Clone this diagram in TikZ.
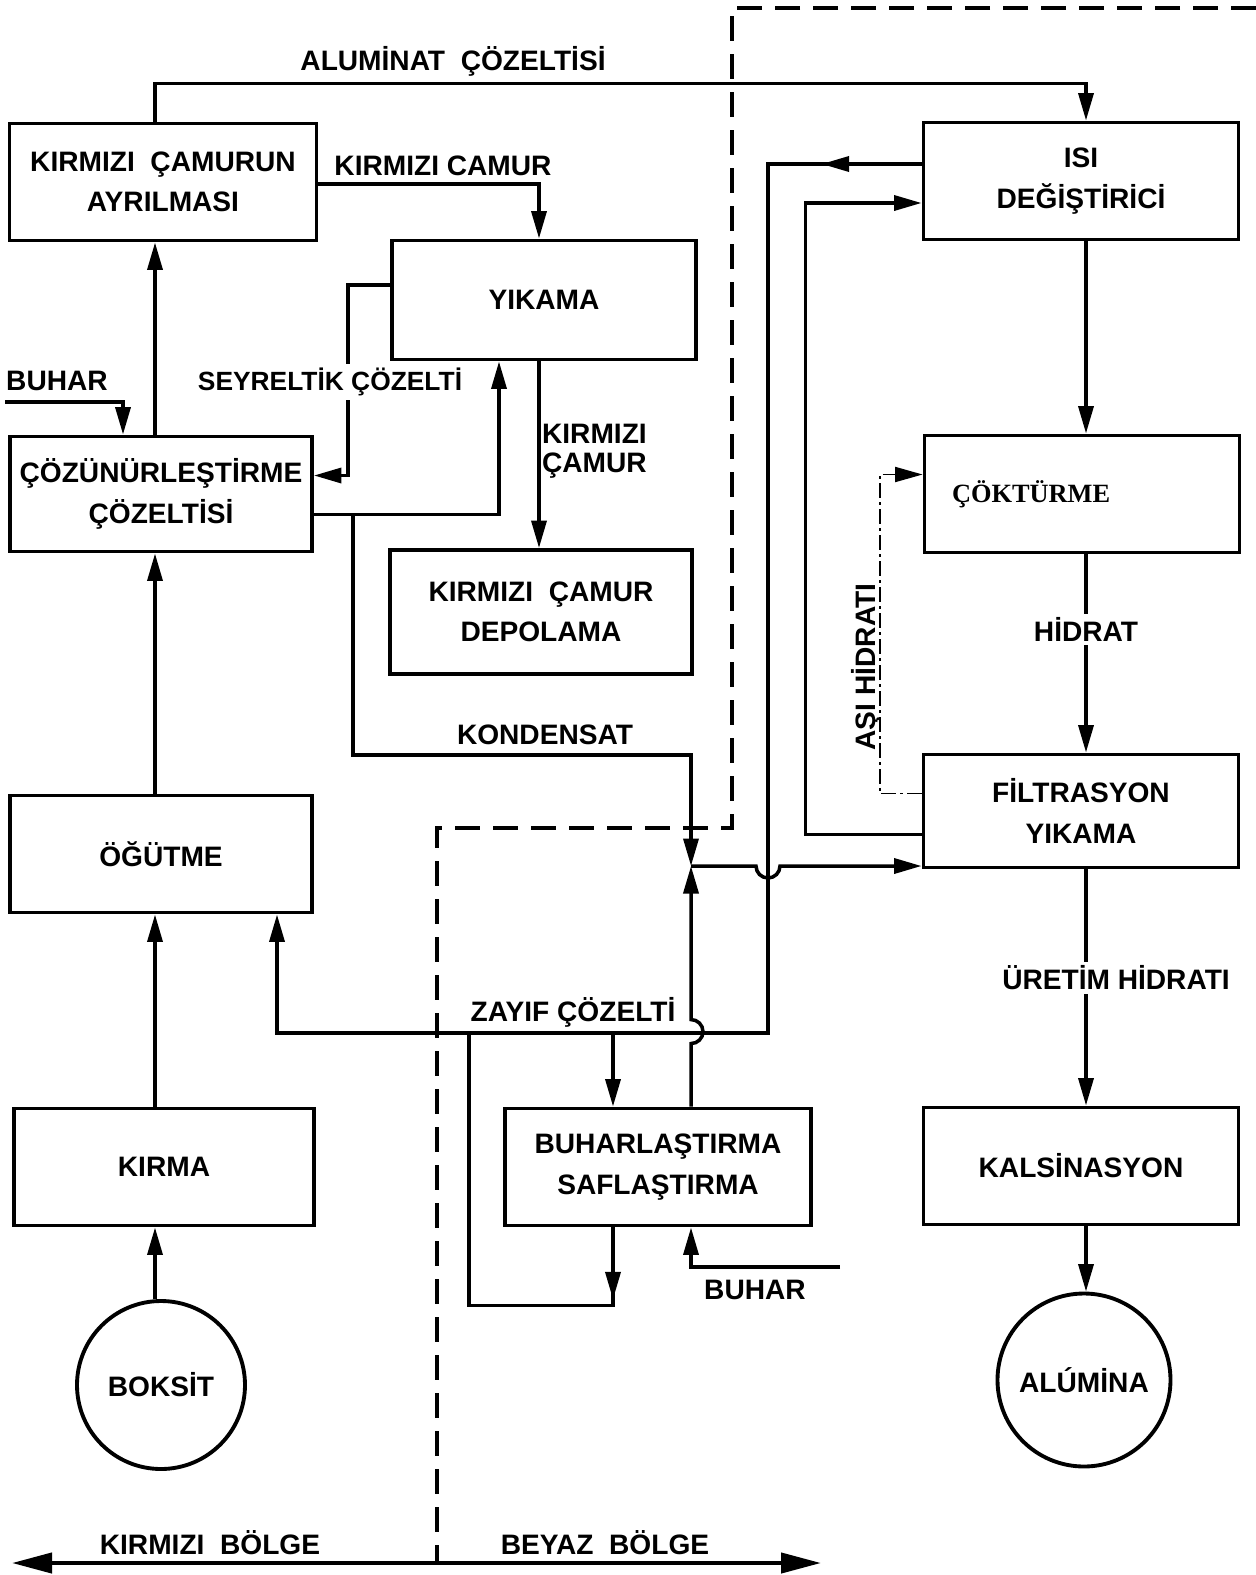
\documentclass[tikz,border=0pt]{standalone}
\usepackage{fontspec}
\setmainfont{Liberation Sans}
\newfontfamily\cokfont{Liberation Serif}
\usetikzlibrary{arrows.meta, calc}

\begin{document}
\begin{tikzpicture}[
    x=0.2mm, y=-0.2mm,
    font=\bfseries\fontsize{16}{23}\selectfont,
    box/.style={rectangle, draw, line width=2.2pt, align=center,
                minimum width=60.4mm, minimum height=23.4mm, inner sep=0pt},
    rbox/.style={box, minimum width=63mm},
    rnd/.style={circle, draw, line width=2.2pt, minimum size=33.6mm,
                inner sep=0pt},
    lbl/.style={inner sep=1pt},
    wlbl/.style={fill=white, inner sep=2pt},
    ln/.style={line width=2pt},
    a/.style={ln, -{Triangle[length=5.5mm, width=3mm]}},
    dd/.style={line width=1.1pt,
               dash pattern=on 3mm off 0.8mm on 0.6mm off 0.8mm},
    da/.style={line width=1.8pt, dash pattern=on 5mm off 2.6mm},
    ba/.style={line width=2.4pt,
               {Triangle[length=8mm, width=4mm]}-{Triangle[length=8mm, width=4mm]}},
]
\useasboundingbox (0,0) rectangle (1256,1575);

%% --- column lines ---------------------------------------------
\coordinate (lc) at (155,0);
\coordinate (rc) at (1086,0);

%% --- nodes ----------------------------------------------------
\node[box, minimum width=61.4mm] (ayr) at (163,182)
    {KIRMIZI\ \ ÇAMURUN\\AYRILMASI};
\node[box, minimum width=60.8mm, minimum height=23.8mm] (yik) at (544,300)
    {YIKAMA};
\node[box, minimum height=23mm] (coz) at (161,494)
    {ÇÖZÜNÜRLEŞTİRME\\ÇÖZELTİSİ};
\node[box, minimum height=24.8mm] (dep) at (541,612)
    {KIRMIZI\ \ ÇAMUR\\DEPOLAMA};
\node[box] (ogu) at (161,854) {ÖĞÜTME};
\node[box, minimum width=60mm] (kir) at (164,1167) {KIRMA};
\node[rnd, minimum size=33.6mm] (bok) at (161,1385) {BOKSİT};
\node[box, minimum width=61.2mm] (buh) at (658,1167)
    {BUHARLAŞTIRMA\\SAFLAŞTIRMA};

\node[rbox] (isi) at (1081,181) {ISI\\DEĞİŞTİRİCİ};
\node[rbox, align=left, text width=52mm,
      font=\cokfont\bfseries\fontsize{15}{17}\selectfont] (cok) at (1082,494)
    {ÇÖKTÜRME};
\node[rbox, minimum height=22.6mm] (fil) at (1081,811)
    {FİLTRASYON\\YIKAMA};
\node[rbox] (kal) at (1081,1166) {KALSİNASYON};
\node[rnd, minimum size=34.6mm] (alu) at (1084,1380) {ALÚMİNA};

%% --- zone boundary --------------------------------------------
\draw[da] (1256,8) -- (732,8) -- (732,828) -- (437,828) -- (437,1563);

%% --- arrows: red side -----------------------------------------

% aluminat çözeltisi over the top
\draw[a] (lc |- ayr.north) -- ++(0,-38) -| (rc |- isi.north);
\node[lbl] (alut) at (453,61) {ALUMİNAT\ \ ÇÖZELTİSİ};

% red mud to washing
\draw[a] ([yshift=-0.4mm]ayr.east) -| ([xshift=-1mm]yik.north);
\node[lbl] (kct) at (443,166) {KIRMIZI CAMUR};

% dilute liquor back to digestion
\draw[a] ([yshift=3mm]yik.west) -- ++(-42,0) |- ([yshift=3.7mm]coz.east);
\node[wlbl, font=\bfseries\fontsize{15}{18}\selectfont] (sey) at (330,382)
    {SEYRELTİK ÇÖZELTİ};

% digestion to washing
\draw[a] ([yshift=-4.1mm]coz.east) -| ([xshift=-9mm]yik.south);

% washing to storage
\draw[a] ([xshift=-1mm]yik.south) -- ([xshift=-1mm]yik.south |- dep.north);
\node[lbl, anchor=west, align=left,
      font=\bfseries\fontsize{16}{16.5}\selectfont] (kc2) at (540,451)
    {KIRMIZI\\ÇAMUR};

% steam in
\coordinate (bh1) at (5,402);
\draw[a] (bh1) -| ([xshift=-7.6mm]coz.north);
\node[lbl] (bht) at (57,381) {BUHAR};

% main column
\draw[a] (lc |- coz.north) -- (lc |- ayr.south);
\draw[a] (lc |- ogu.north) -- (lc |- coz.south);
\draw[a] (lc |- kir.north) -- (lc |- ogu.south);
\draw[a] (lc |- bok.north) -- (lc |- kir.south);

% condensate to junction
\coordinate (kd) at (353,514);
\coordinate (jn) at (691,866);
\draw[a] (kd) -- ++(0,241) -| (jn);
\node[lbl] (kon) at (545,735) {KONDENSAT};

%% --- arrows: white side ---------------------------------------

% heat exchanger -> weak liquor -> grinding
\coordinate (zr) at (768,1033);
\draw[a] ([yshift=3.4mm]isi.west) -| (zr) -| ([xshift=23.2mm]ogu.south);
\draw[a] ([yshift=3.4mm]isi.west) -- ++(-100,0);
\node[lbl] (zay) at (573,1012) {ZAYIF ÇÖZELTİ};

% weak liquor to evaporation and back
\draw[a] ([xshift=-9mm]buh.north |- zr) -- ([xshift=-9mm]buh.north);
\draw[ln] ([xshift=-9mm]buh.south) -- ++(0,78)
    -| ([xshift=-37.8mm]buh.north |- zr);
\draw[a] ([xshift=-9mm]buh.south) -- ++(0,72);

% evaporation up to junction, hopping the weak liquor line
\draw[a] ([xshift=6.6mm]buh.north) -- ++(0,-63)
    arc[start angle=90, end angle=-90, radius=12] -- (jn);

% junction to filtration, hopping x=768
\draw[a] (jn) -- ++(65,0) arc[start angle=180, end angle=0, radius=12]
    -- (fil.west |- jn);

% filtration back to heat exchanger
\draw[a] ([yshift=-4.7mm]fil.west) -- ++(-116,0) |- ([yshift=-4.4mm]isi.west);

% seed hydrate
\draw[dd, -{Triangle[length=5.5mm, width=3mm]}]
    ([yshift=3.5mm]fil.west) -- ++(-42,0) |- ([yshift=3.9mm]cok.west);
\node[lbl, rotate=90] (asi) at (866,667) {AŞI HİDRATI};

% right column
\draw[a] (rc |- isi.south) -- (rc |- cok.north);
\draw[a] (rc |- cok.south) -- (rc |- fil.north)
    node[wlbl, pos=0.38] {HİDRAT};
\draw[a] (rc |- fil.south) -- (rc |- kal.north)
    node[wlbl, pos=0.46, xshift=6mm] {ÜRETİM HİDRATI};
\draw[a] (rc |- kal.south) -- (rc |- alu.north);

% steam to evaporation
\coordinate (bh2) at (840,1267);
\draw[a] (bh2) -| ([xshift=6.6mm]buh.south);
\node[lbl] (bh2t) at (755,1290) {BUHAR};

%% --- zones ----------------------------------------------------
\coordinate (zl) at (12,1563);
\coordinate (zrr) at (821,1563);
\draw[ba] (zl) -- (zrr);
\node[lbl] (kbt) at (210,1543) {KIRMIZI\ \ BÖLGE};
\node[lbl] (bbt) at (605,1543) {BEYAZ\ \ BÖLGE};

\end{tikzpicture}
\end{document}
